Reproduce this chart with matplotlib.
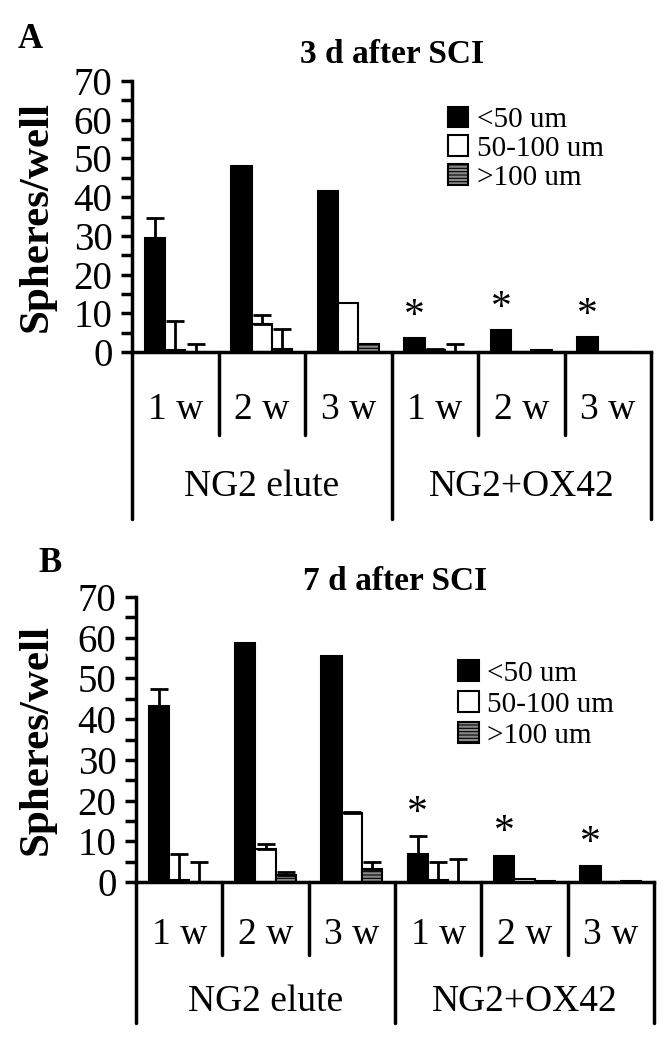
import numpy as np
import matplotlib
matplotlib.use('Agg')
import matplotlib.pyplot as plt
import matplotlib.transforms as mtransforms
from matplotlib.ticker import MultipleLocator

plt.rcParams['font.family'] = ['Liberation Serif', 'DejaVu Serif']
plt.rcParams['hatch.linewidth'] = 0.8
plt.rcParams['hatch.color'] = '#333333'

weeks = ['1 w', '2 w', '3 w', '1 w', '2 w', '3 w']
groups = ['NG2 elute', 'NG2+OX42']
sizes = ['<50 um', '50-100 um', '>100 um']
signif = [False, False, False, True, True, True]

# panel A, 3 d after SCI (mean, upper error)
a_small = [29.5, 48.0, 41.7, 3.7, 5.6, 3.8]
a_small_err = [5.0, 0, 0, 0, 0, 0]
a_mid = [0.4, 7.3, 12.6, 0.4, 0, 0]
a_mid_err = [7.5, 2.3, 0, 0.4, 0, 0]
a_big = [0, 0.7, 2.1, 0, 0.4, 0]
a_big_err = [2.1, 5.3, 0, 2.0, 0, 0]

# panel B, 7 d after SCI
b_small = [43.3, 58.6, 55.5, 7.0, 6.5, 4.0]
b_small_err = [4.1, 0, 0, 4.3, 0, 0]
b_mid = [0.4, 8.2, 17.0, 0.5, 0.8, 0]
b_mid_err = [6.6, 1.1, 0.2, 4.4, 0, 0]
b_big = [0, 1.6, 3.3, 0, 0.2, 0.3]
b_big_err = [4.9, 0.9, 1.6, 5.7, 0, 0]

face = ['black', 'white', '#8a8a8a']
hatch = [None, None, '-----']


def draw_panel(ax, title, title_pad, vals, errs, leg_anchor, leg_sp, wk_div, grp_div, wk_lab, grp_lab, ylab_x):
    x = np.arange(len(weeks))
    w = 0.235
    offs = [-w, 0, w]
    for k in range(3):
        v = np.array(vals[k], dtype=float)
        e = np.array(errs[k], dtype=float)
        ax.bar(x + offs[k], v, w, color=face[k], edgecolor='black', linewidth=1.5,
               hatch=hatch[k], label=sizes[k], zorder=2)
        m = e > 0
        if m.any():
            ax.errorbar(x[m] + offs[k], v[m], yerr=[np.zeros(m.sum()), e[m]], fmt='none',
                        ecolor='black', elinewidth=2, capsize=6.5, capthick=2, zorder=3)
    # stars over the black bars
    tops = np.max(np.array(vals) + np.array(errs), axis=0)
    for i in range(len(weeks)):
        if signif[i]:
            ax.text(x[i] + offs[0], tops[i] + 5.5, '*', ha='center', va='center', fontsize=30)

    ax.set_xlim(-0.5, 5.5)
    ax.set_ylim(0, 70)
    ax.set_xticks([])
    ax.yaxis.set_major_locator(MultipleLocator(10))
    ax.yaxis.set_minor_locator(MultipleLocator(5))
    ax.tick_params(axis='y', which='both', direction='out', length=8, width=2.5, labelsize=28, pad=6)
    for s in ['top', 'right']:
        ax.spines[s].set_visible(False)
    for s in ['left', 'bottom']:
        ax.spines[s].set_linewidth(2.5)
    ax.set_ylabel('Spheres/well', fontsize=31, fontweight='bold')
    ax.yaxis.set_label_coords(ylab_x, 0.5)
    ax.set_title(title, fontsize=24, fontweight='bold', pad=title_pad)

    # two level category axis drawn under the plot
    trans = mtransforms.blended_transform_factory(ax.transData, ax.transAxes)
    for b in range(len(weeks) + 1):
        L = grp_div if b % 3 == 0 else wk_div
        ax.plot([b - 0.5, b - 0.5], [0, -L], transform=trans, clip_on=False,
                color='black', lw=2.5, solid_capstyle='round')
    for i in range(len(weeks)):
        ax.text(x[i], -wk_lab, weeks[i], transform=trans, ha='center', va='center', fontsize=27)
    for g in range(len(groups)):
        ax.text(3 * g + 1, -grp_lab, groups[g], transform=trans, ha='center', va='center', fontsize=27)

    ax.legend(loc='upper left', bbox_to_anchor=leg_anchor, frameon=False, fontsize=21,
              handlelength=0.7, handleheight=0.7, handletextpad=0.3, labelspacing=leg_sp,
              borderpad=0, borderaxespad=0)


fig = plt.figure(figsize=(6.66, 10.5), dpi=100)
axA = fig.add_axes([132 / 666, 1 - 352 / 1050, 519 / 666, 271 / 1050])
axB = fig.add_axes([136 / 666, 1 - 882 / 1050, 518 / 666, 285 / 1050])

draw_panel(axA, '3 d after SCI', 13,
           [a_small, a_mid, a_big], [a_small_err, a_mid_err, a_big_err],
           (0.608, 0.905), 0.08, 0.305, 0.615, 0.213, 0.497, -0.148)
draw_panel(axB, '7 d after SCI', 3,
           [b_small, b_mid, b_big], [b_small_err, b_mid_err, b_big_err],
           (0.622, 0.778), 0.16, 0.256, 0.495, 0.186, 0.421, -0.156)

fig.text(30 / 666, 1 - 39 / 1050, 'A', fontsize=25, fontweight='bold', ha='center', va='center')
fig.text(50 / 666, 1 - 564 / 1050, 'B', fontsize=25, fontweight='bold', ha='center', va='center')

fig.savefig('out.png', dpi=100)
